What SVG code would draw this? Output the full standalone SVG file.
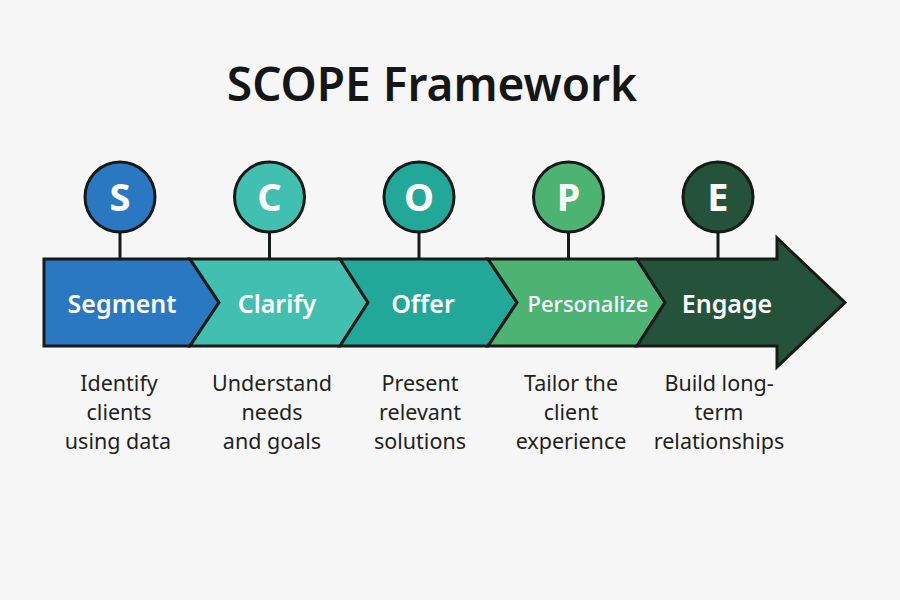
<svg xmlns="http://www.w3.org/2000/svg" width="900" height="600" viewBox="0 0 900 600">
<style>
.seg{stroke:#161a18;stroke-width:3;stroke-linejoin:miter}
.circ{stroke:#161a18;stroke-width:3}
.letter{font-family:"Noto Sans","Open Sans",sans-serif;font-weight:700;font-size:38px;fill:#fff;text-anchor:middle}
.lbl{font-family:"Noto Sans","Open Sans",sans-serif;font-weight:600;font-size:25px;fill:#fff;text-anchor:middle}
.lbl.small{font-size:22px;font-weight:500}
.desc{font-family:"Noto Sans","Open Sans",sans-serif;font-size:21.5px;fill:#1e2320;text-anchor:middle}
.stem{stroke:#161a18;stroke-width:3}
</style>
<rect width="900" height="600" fill="#f6f6f6"/>
<text x="432" y="101" font-family="Noto Sans,Open Sans,sans-serif" font-weight="600" font-size="46" fill="#141617" text-anchor="middle">SCOPE Framework</text>
<g id="connectors">
<line class="stem" x1="120" y1="232" x2="120" y2="259"/>
<line class="stem" x1="269.5" y1="232" x2="269.5" y2="259"/>
<line class="stem" x1="419" y1="232" x2="419" y2="259"/>
<line class="stem" x1="568.5" y1="232" x2="568.5" y2="259"/>
<line class="stem" x1="718" y1="232" x2="718" y2="259"/>
</g>
<g id="segment">
<polygon class="seg" fill="#2a78c1" points="44,259 190,259 219,302.5 190,346 44,346"/>
<text class="lbl" x="122" y="313">Segment</text>
</g>
<g id="clarify">
<polygon class="seg" fill="#41bfb0" points="190,259 340,259 368,302.5 340,346 190,346 219,302.5"/>
<text class="lbl" x="277" y="313">Clarify</text>
</g>
<g id="offer">
<polygon class="seg" fill="#22a898" points="340,259 488,259 517,302.5 488,346 340,346 368,302.5"/>
<text class="lbl" x="423" y="313">Offer</text>
</g>
<g id="personalize">
<polygon class="seg" fill="#4cb373" points="488,259 637,259 665,302.5 637,346 488,346 517,302.5"/>
<text class="lbl small" x="588" y="312">Personalize</text>
</g>
<g id="engage">
<polygon class="seg" fill="#24523b" points="637,259 777,259 777,238 845,302.5 777,367 777,346 637,346 665,302.5"/>
<text class="lbl" x="727" y="313">Engage</text>
</g>
<g id="circle-s"><circle class="circ" cx="120" cy="197" r="35" fill="#2a78c1"/><text class="letter" x="120" y="211">S</text></g>
<g id="circle-c"><circle class="circ" cx="269.5" cy="197" r="35" fill="#41bfb0"/><text class="letter" x="269.5" y="211">C</text></g>
<g id="circle-o"><circle class="circ" cx="419" cy="197" r="35" fill="#22a898"/><text class="letter" x="419" y="211">O</text></g>
<g id="circle-p"><circle class="circ" cx="568.5" cy="197" r="35" fill="#4cb373"/><text class="letter" x="568.5" y="211">P</text></g>
<g id="circle-e"><circle class="circ" cx="718" cy="197" r="35" fill="#24523b"/><text class="letter" x="718" y="211">E</text></g>
<g id="desc-s"><text class="desc" x="119" y="391">Identify</text><text class="desc" x="119" y="420">clients</text><text class="desc" x="118" y="449">using data</text></g>
<g id="desc-c"><text class="desc" x="272" y="391">Understand</text><text class="desc" x="272" y="420">needs</text><text class="desc" x="272" y="449">and goals</text></g>
<g id="desc-o"><text class="desc" x="420" y="391">Present</text><text class="desc" x="420" y="420">relevant</text><text class="desc" x="420" y="449">solutions</text></g>
<g id="desc-p"><text class="desc" x="571" y="391">Tailor the</text><text class="desc" x="571" y="420">client</text><text class="desc" x="571" y="449">experience</text></g>
<g id="desc-e"><text class="desc" x="719" y="391">Build long-</text><text class="desc" x="719" y="420">term</text><text class="desc" x="719" y="449">relationships</text></g>
</svg>
